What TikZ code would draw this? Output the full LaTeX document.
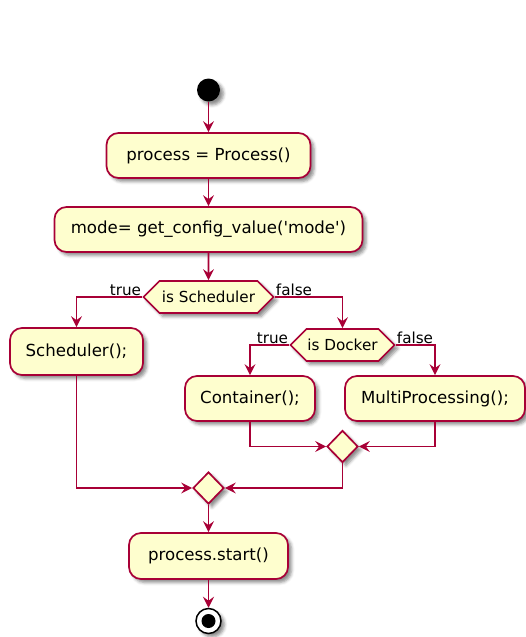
\documentclass[tikz,border=0pt]{standalone}
\usepackage{fontspec}
\setmainfont{DejaVu Sans}
\usetikzlibrary{arrows.meta,shapes.geometric,shapes.symbols,shadows.blur}
\definecolor{umlfill}{HTML}{FEFECE}
\definecolor{umlline}{HTML}{A80036}
\tikzset{
  shade/.style={blur shadow={shadow xshift=3.5pt,shadow yshift=-3.5pt,shadow blur radius=3pt,shadow opacity=45}},
  actbox/.style={draw=umlline,fill=umlfill,line width=1.7pt,rounded corners=12pt,
    minimum height=45pt,inner sep=0pt,shade,font=\fontsize{16.6}{19}\selectfont},
  decide/.style={signal,signal to=west and east,signal pointer angle=90,draw=umlline,fill=umlfill,
    line width=1.7pt,minimum height=32pt,inner sep=0pt,shade,font=\fontsize{15.2}{18}\selectfont},
  merge/.style={diamond,draw=umlline,fill=umlfill,line width=1.7pt,minimum width=31pt,
    minimum height=32pt,inner sep=0pt,shade},
  flow/.style={draw=umlline,line width=1.7pt,-{Stealth[length=11pt,width=11pt,inset=4pt]}},
  guard/.style={inner sep=1pt,font=\fontsize{15.2}{18}\selectfont},
}
\begin{document}
\begin{tikzpicture}[x=1pt,y=-1pt]
\useasboundingbox (0,0) rectangle (526,637);

% start and stop
\node[circle,fill=black,minimum size=23pt,inner sep=0pt,shade] (start) at (208.5,90) {};
\node[circle,draw=black,fill=white,line width=1.5pt,minimum size=25pt,inner sep=0pt,shade] (stop) at (208.5,621) {};
\fill[black] (stop.center) circle (7pt);

% actions
\node[actbox,minimum width=204pt] (proc) at (208.5,155.5) {process = Process()};
\node[actbox,minimum width=308pt] (mode) at (208.5,229.5) {mode= get\_config\_value(\textquotesingle mode\textquotesingle)};
\node[decide,minimum width=130pt] (issched) at (208.5,297) {is Scheduler};
\node[actbox,minimum width=133pt,minimum height=47pt] (sched) at (76.5,351.5) {Scheduler();};
\node[decide,minimum width=104pt] (isdock) at (342.5,345) {is Docker};
\node[actbox,minimum width=130pt] (cont) at (250,398.5) {Container();};
\node[actbox,minimum width=180pt] (multi) at (435,398.5) {MultiProcessing();};
\node[merge] (mergein) at (342.5,446.5) {};
\node[merge] (mergeout) at (208.5,488) {};
\node[actbox,minimum width=159pt,minimum height=46pt] (run) at (208.5,556) {process.start()};

% guards
\node[guard,anchor=south east] at (issched.west) {true};
\node[guard,anchor=south west] at (issched.east) {false};
\node[guard,anchor=south east] at (isdock.west) {true};
\node[guard,anchor=south west] at (isdock.east) {false};

% flows
\draw[flow] (start) -- (proc);
\draw[flow] (proc) -- (mode);
\draw[flow] (mode) -- (issched);
\draw[flow] (issched.west) -| (sched.north);
\draw[flow] (issched.east) -| (isdock.north);
\draw[flow] (isdock.west) -| (cont.north);
\draw[flow] (isdock.east) -| (multi.north);
\draw[flow] (cont.south) |- (mergein.west);
\draw[flow] (multi.south) |- (mergein.east);
\draw[flow] (mergein.south) |- (mergeout.east);
\draw[flow] (sched.south) |- (mergeout.west);
\draw[flow] (mergeout) -- (run);
\draw[flow] (run) -- (stop);
\end{tikzpicture}
\end{document}
